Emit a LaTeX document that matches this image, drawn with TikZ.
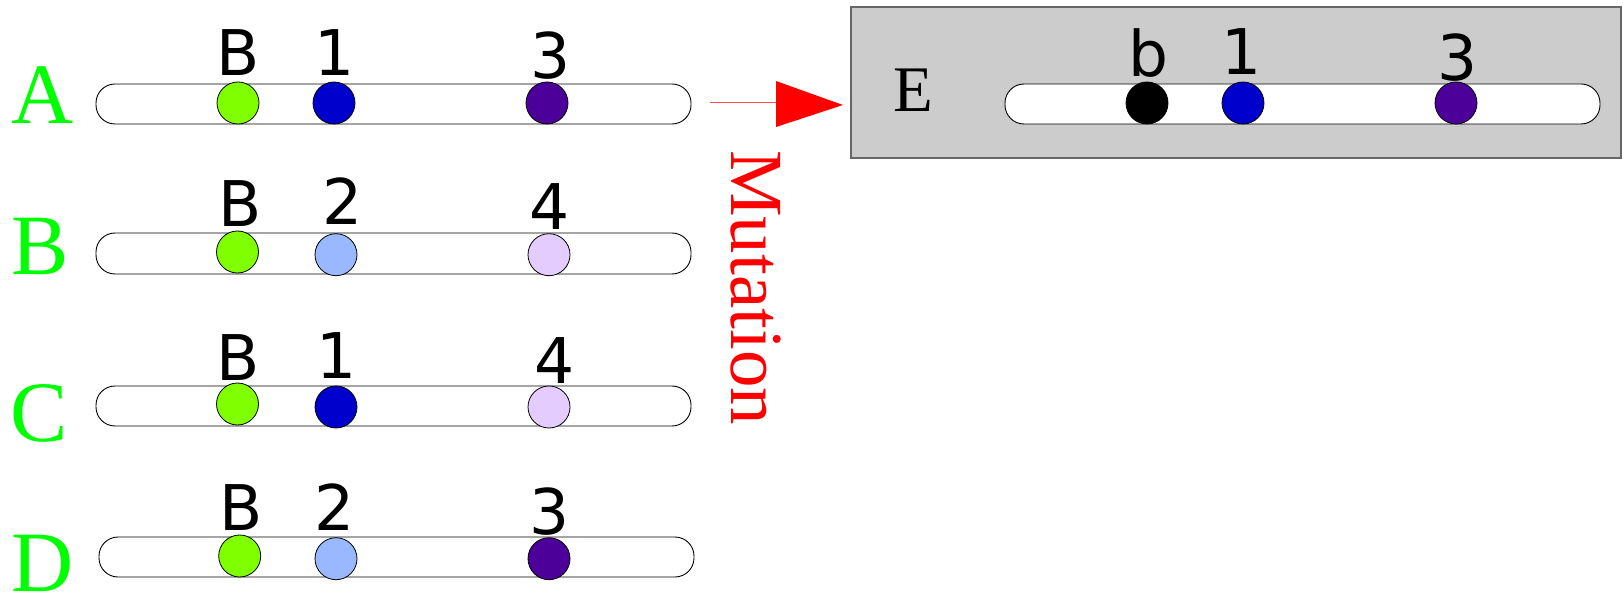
\documentclass[tikz,border=0pt]{standalone}
\usepackage{fontspec}
\setmainfont{Liberation Serif}
\newfontfamily\labelfont{DejaVu Sans}
\definecolor{lettergreen}{HTML}{00FF00}
\definecolor{cgreen}{HTML}{80FF00}
\definecolor{cblue}{HTML}{0000CC}
\definecolor{cpurple}{HTML}{4C0099}
\definecolor{clightblue}{HTML}{99B8FF}
\definecolor{clav}{HTML}{E5CCFF}
\definecolor{boxgray}{HTML}{CCCCCC}
\definecolor{boxedge}{HTML}{666666}
\begin{document}
\begin{tikzpicture}[x=1pt,y=-1pt,
  chrom/.style={draw=black,line width=0.9pt,fill=white,rounded corners=19pt},
  gene/.style={circle,draw=black,line width=0.8pt,minimum size=42pt,inner sep=0pt},
  glabel/.style={anchor=base,inner sep=0pt,font=\labelfont\fontsize{63}{63}\selectfont},
  rowlabel/.style={anchor=base west,inner sep=0pt,text=lettergreen,font=\fontsize{86}{86}\selectfont}]
\useasboundingbox (0,0) rectangle (1624,593);
% E box
\fill[boxgray,draw=boxedge,line width=1.2pt] (851,7) rectangle (1621,158);
% Row A
\node[rowlabel] (lA) at (11,124) {A};
\draw[chrom] (96,84) rectangle (691,124);
\node[gene,fill=cgreen] (a1) at (238,103) {};
\node[gene,fill=cblue] (a2) at (334,103) {};
\node[gene,fill=cpurple] (a3) at (547,103) {};
\node[glabel] (ta1) at (238.6,76) {B};
\node[glabel] (ta2) at (334.6,76) {1};
\node[glabel] (ta3) at (551,79) {3};
% Row B
\node[rowlabel] (lB) at (11,275) {B};
\draw[chrom] (96,233) rectangle (691,274);
\node[gene,fill=cgreen] (b1) at (237.5,252) {};
\node[gene,fill=clightblue] (b2) at (336,254.7) {};
\node[gene,fill=clav] (b3) at (549,254.7) {};
\node[glabel] (tb1) at (240,227) {B};
\node[glabel] (tb2) at (343,225) {2};
\node[glabel] (tb3) at (550,230) {4};
% Row C
\node[rowlabel] (lC) at (10,441) {C};
\draw[chrom] (96,386) rectangle (691,426);
\node[gene,fill=cgreen] (c1) at (237.5,404) {};
\node[gene,fill=cblue] (c2) at (336,407) {};
\node[gene,fill=clav] (c3) at (549,407) {};
\node[glabel] (tc1) at (238.6,380) {B};
\node[glabel] (tc2) at (337,378) {1};
\node[glabel] (tc3) at (555,383) {4};
% Row D
\node[rowlabel] (lD) at (11,591) {D};
\draw[chrom] (99,537) rectangle (694,577);
\node[gene,fill=cgreen] (d1) at (239.7,556) {};
\node[gene,fill=clightblue] (d2) at (336,558.7) {};
\node[gene,fill=cpurple] (d3) at (549,558.7) {};
\node[glabel] (td1) at (241,530) {B};
\node[glabel] (td2) at (334.6,530) {2};
\node[glabel] (td3) at (550,534) {3};
% Row E
\node[anchor=base west,inner sep=0pt,font=\fontsize{65}{65}\selectfont] (lE) at (893,112) {E};
\draw[chrom] (1005,84) rectangle (1600,124);
\node[gene,fill=black] (e1) at (1147,103) {};
\node[gene,fill=cblue] (e2) at (1243,103) {};
\node[gene,fill=cpurple] (e3) at (1456,103) {};
\node[glabel] (te1) at (1148.5,77) {b};
\node[glabel] (te2) at (1241.5,75) {1};
\node[glabel] (te3) at (1457.5,81) {3};
% Mutation arrow
\coordinate (ms) at (710,103);
\coordinate (mb) at (776,103);
\draw[red!70,line width=1pt] (ms) -- (mb);
\fill[red] (776,81) -- (843,105) -- (776,127) -- cycle;
\node[anchor=base west,inner sep=0pt,rotate=-90,text=red,font=\fontsize{75}{75}\selectfont] (mut) at (731,150) {Mutation};
\end{tikzpicture}
\end{document}
